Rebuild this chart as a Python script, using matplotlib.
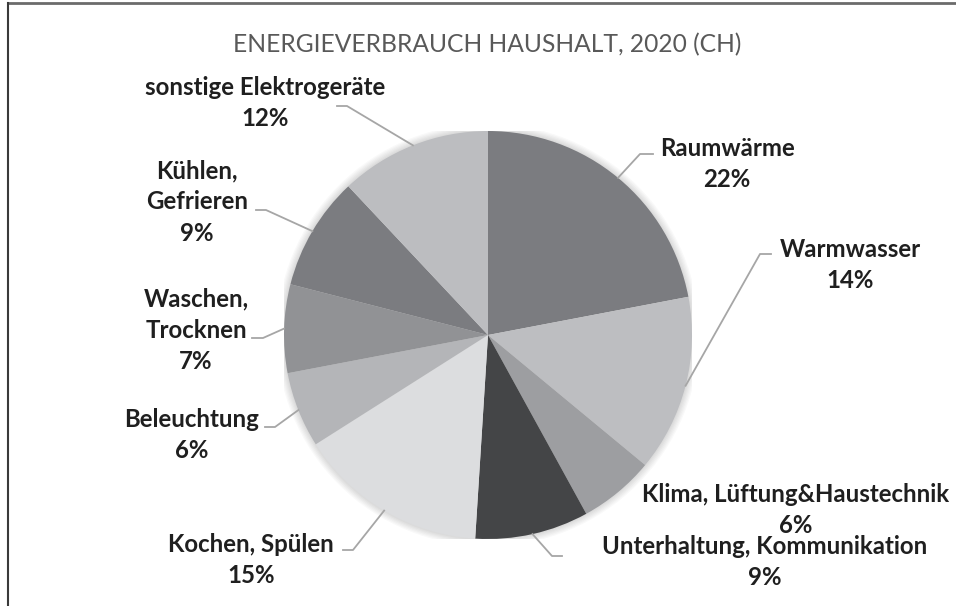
import matplotlib.pyplot as plt
from matplotlib.lines import Line2D
import numpy as np

# Daten
labels = ['Raumwärme', 'Warmwasser', 'Klima, Lüftung&Haustechnik',
          'Unterhaltung, Kommunikation', 'Kochen, Spülen', 'Beleuchtung',
          'Waschen,\nTrocknen', 'Kühlen,\nGefrieren', 'sonstige Elektrogeräte']
values = [22, 14, 6, 9, 15, 6, 7, 9, 12]
colors = ['#7b7c80', '#bdbec1', '#9d9ea1', '#444547', '#dcdddf',
          '#b4b5b8', '#919295', '#7b7c80', '#bcbdc0']

# Label-Positionen (Pixel) und Knickpunkte der Führungslinien
label_pos = [(727, 164), (850, 265), (796, 510), (765, 562), (251, 560),
             (192, 435), (196, 330), (197, 202), (265, 103)]
elbows = [((653, 154), (640, 154)), ((771, 254), (760, 254)), None,
          ((562, 556), (552, 556)), ((343, 550), (353, 550)),
          ((265, 427), (275, 427)), ((252, 338), (263, 338)),
          ((256, 210), (266, 210)), ((337, 106), (347, 106))]

W, H = 956, 606
fig = plt.figure(figsize=(W / 100, H / 100), dpi=100)

def fpos(x, y):
    return x / W, 1 - y / H

# Pie-Achse: Zentrum (488, 335), Radius 204 px
cx, cy, r = 488, 335, 204
ax = fig.add_axes([(cx - r) / W, 1 - (cy + r) / H, 2 * r / W, 2 * r / H])

# leichter Schatten
for k in range(6):
    ax.add_patch(plt.Circle((0, 0), 1.0 + 0.006 * (k + 1), color='black',
                            alpha=0.025, lw=0, zorder=0))

ax.pie(values, colors=colors, startangle=90, counterclock=False,
       wedgeprops=dict(linewidth=0), radius=1.0)
ax.set_xlim(-1, 1)
ax.set_ylim(-1, 1)
ax.set_aspect('equal')
ax.axis('off')

fig.text(*fpos(487, 45), 'ENERGIEVERBRAUCH HAUSHALT, 2020 (CH)',
         ha='center', va='center', fontsize=17.7, color='#595959',
         family='Lato')

total = sum(values)
cum = 0
for lab, v, pos, el in zip(labels, values, label_pos, elbows):
    mid = cum + v / 2
    cum += v
    theta = np.deg2rad(90 - 360 * mid / total)
    rx, ry = np.cos(theta), np.sin(theta)
    px = cx + r * rx
    py = cy - r * ry
    fig.text(*fpos(*pos), f'{lab}\n{v / total * 100:.0f}%', ha='center',
             va='center', fontsize=17.3, fontweight='bold', color='#1f1f1f',
             family='Lato', linespacing=1.45)
    if el is not None:
        (x0, y0), (x1, y1) = el
        xs = [x0 / W, x1 / W, px / W]
        ys = [1 - y0 / H, 1 - y1 / H, 1 - py / H]
        fig.add_artist(Line2D(xs, ys, color='#a6a6a6', lw=1.3,
                              transform=fig.transFigure))

# Rahmen (oben und links)
fig.add_artist(Line2D([8 / W, 1], [1 - 3 / H, 1 - 3 / H], color='#6b6b6b',
                      lw=2, transform=fig.transFigure))
fig.add_artist(Line2D([8 / W, 8 / W], [0, 1 - 3 / H], color='#3a3a3a',
                      lw=1.5, transform=fig.transFigure))

fig.savefig('out.png', dpi=100)
